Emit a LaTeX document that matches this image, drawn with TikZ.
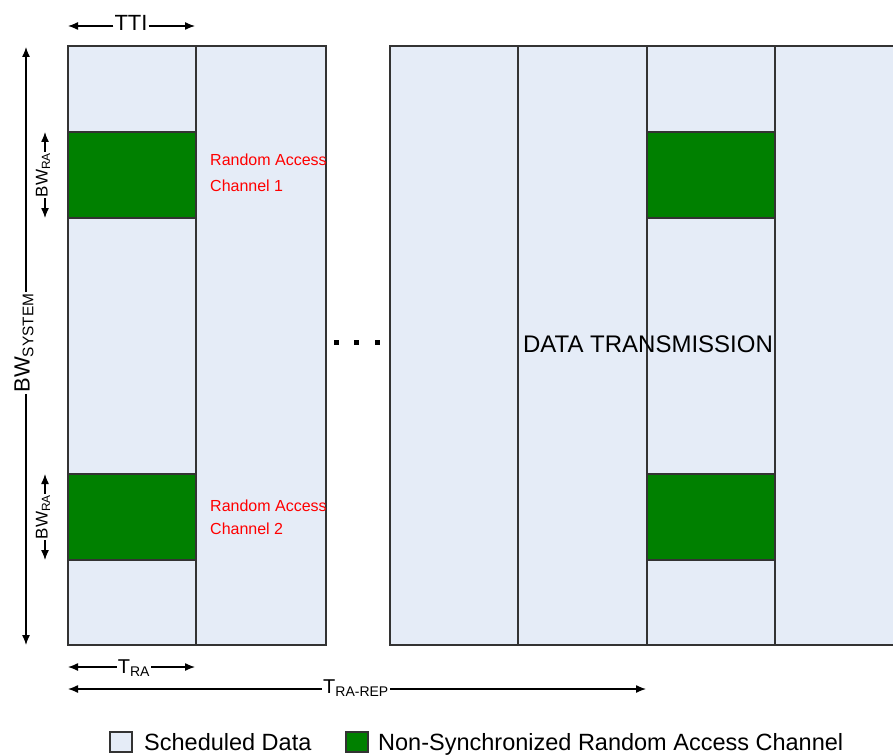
\documentclass[tikz,border=0pt]{standalone}
\usepackage{fontspec}
\setmainfont{Liberation Sans}
\usetikzlibrary{arrows.meta}
\definecolor{schedfill}{RGB}{229,236,247}
\definecolor{rachgreen}{RGB}{0,128,0}

\begin{document}
\begin{tikzpicture}[x=1pt, y=-1pt, >={Latex[length=10pt,width=8pt]},
    font=\fontsize{22}{26}\selectfont,
    cell/.style={draw=black!80, line width=1.7pt},
    dim/.style={line width=1.3pt},
    lbl/.style={inner sep=1pt},
    ratext/.style={text=red, font=\fontsize{16}{19}\selectfont, anchor=base west, inner sep=0pt},
    legbox/.style={draw=black!80, line width=1.3pt, minimum width=22pt, minimum height=20pt, inner sep=0pt},
    legtext/.style={anchor=base west, inner sep=0pt, font=\fontsize{23.5}{28}\selectfont}]
    \useasboundingbox (0,0) rectangle (893,754);
    \clip (0,0) rectangle (893,754);
    \def\yT{46}\def\yB{645}
    % scheduled data area, left and right blocks
    \fill[schedfill] (68,\yT) rectangle (326,\yB);
    \fill[schedfill] (390,\yT) rectangle (903,\yB);
    % random access slots
    \foreach \x in {68,647}
      \foreach \y in {132,474}
        \draw[cell, fill=rachgreen] (\x,\y) rectangle ++(128,86);
    % columns (TTIs)
    \foreach \a/\b in {68/196,196/326,390/518,518/647,647/775,775/903}
      \draw[cell] (\a,\yT) rectangle (\b,\yB);
    % dots between blocks
    \foreach \x in {336,356,377}
      \fill (\x-2.5,339.5) rectangle ++(5,5);
    \node[anchor=base, inner sep=0pt, font=\fontsize{24}{28}\selectfont] (datatx) at (648,352) {DATA TRANSMISSION};
    % channel labels
    \node[ratext] (ra1top) at (210,166) {Random Access};
    \node[ratext] (ra1bot) at (210,191) {Channel 1};
    \node[ratext] (ra2top) at (210,511) {Random Access};
    \node[ratext] (ra2bot) at (210,534) {Channel 2};
    % TTI
    \coordinate (ttiL) at (68,26); \coordinate (ttiR) at (195,26);
    \node[lbl, anchor=base] (tti) at (131,31) {TTI};
    \draw[dim,->] (tti.west |- ttiL) -- (ttiL);
    \draw[dim,->] (tti.east |- ttiR) -- (ttiR);
    % system bandwidth
    \coordinate (bwT) at (26,47); \coordinate (bwB) at (26,645);
    \node[lbl, rotate=90] (bwsys) at (24,343) {BW\textsubscript{SYSTEM}};
    \draw[dim,->] (bwsys.east -| bwT) -- (bwT);
    \draw[dim,->] (bwsys.west -| bwB) -- (bwB);
    % random access bandwidth
    \foreach \i/\y in {1/132,2/474} {
      \coordinate (raT\i) at (45,\y); \coordinate (raB\i) at (45,\y+86);
      \node[lbl, rotate=90, font=\fontsize{17}{20}\selectfont] (bwra\i) at (43,\y+43) {BW\textsubscript{RA}};
      \draw[dim,->] (bwra\i.east -| raT\i) -- (raT\i);
      \draw[dim,->] (bwra\i.west -| raB\i) -- (raB\i);
    }
    % T_RA and T_RA-REP
    \coordinate (traL) at (68,667); \coordinate (traR) at (195,667);
    \node[lbl, anchor=base, font=\fontsize{20}{24}\selectfont] (tra) at (134,673) {T\textsubscript{RA}};
    \draw[dim,->] (tra.west |- traL) -- (traL);
    \draw[dim,->] (tra.east |- traR) -- (traR);
    \coordinate (trepL) at (68,689); \coordinate (trepR) at (646,689);
    \node[lbl, anchor=base, font=\fontsize{20}{24}\selectfont] (trep) at (356,693) {T\textsubscript{RA-REP}};
    \draw[dim,->] (trep.west |- trepL) -- (trepL);
    \draw[dim,->] (trep.east |- trepR) -- (trepR);
    % legend
    \node[legbox, fill=schedfill] (legsched) at (121,742) {};
    \node[legtext] (legschedtxt) at (144,750) {Scheduled Data};
    \node[legbox, fill=rachgreen] (legrach) at (357,742) {};
    \node[legtext] (legrachtxt) at (378,750) {Non-Synchronized Random Access Channel};
\end{tikzpicture}
\end{document}
